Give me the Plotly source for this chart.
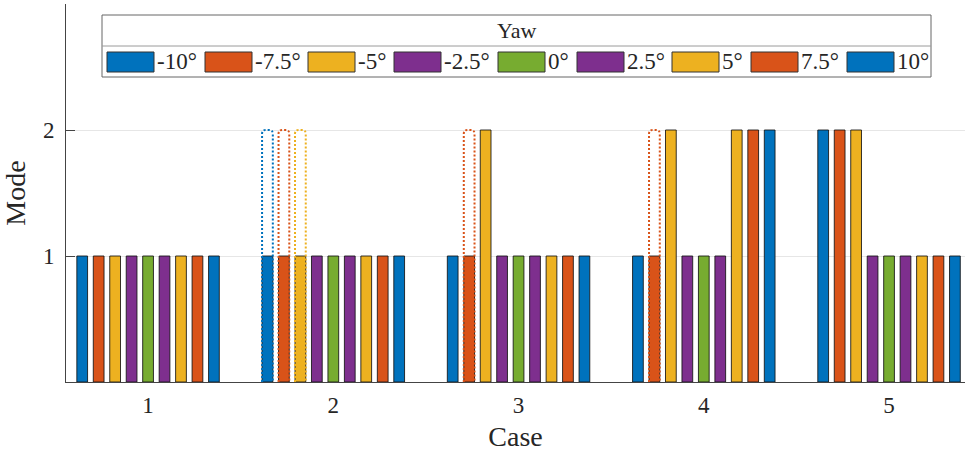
import plotly.graph_objects as go

# Grouped bar data: mode observed per case for each yaw angle
cases = [1, 2, 3, 4, 5]
yaw_labels = ["-10°", "-7.5°", "-5°", "-2.5°", "0°", "2.5°", "5°", "7.5°", "10°"]
colors = ["#0072BD", "#D95319", "#EDB120", "#7E2F8E", "#77AC30",
          "#7E2F8E", "#EDB120", "#D95319", "#0072BD"]

mode_m10 = [1, 1, 1, 1, 2]
mode_m75 = [1, 1, 1, 1, 2]
mode_m5 = [1, 1, 2, 2, 2]
mode_m25 = [1, 1, 1, 1, 1]
mode_0 = [1, 1, 1, 1, 1]
mode_p25 = [1, 1, 1, 1, 1]
mode_p5 = [1, 1, 1, 2, 1]
mode_p75 = [1, 1, 1, 2, 1]
mode_p10 = [1, 1, 1, 2, 1]
modes = [mode_m10, mode_m75, mode_m5, mode_m25, mode_0,
         mode_p25, mode_p5, mode_p75, mode_p10]

# Alternative mode (dotted outline), None where absent
alt_m10 = [None, 2, None, None, None]
alt_m75 = [None, 2, 2, 2, None]
alt_m5 = [None, 2, None, None, None]
alt_modes = [alt_m10, alt_m75, alt_m5] + [[None] * 5] * 6

n = len(yaw_labels)
slot = 0.8 / n
bar_w = 0.058
offsets = [(i - (n - 1) / 2) * slot for i in range(n)]

FONT = "Liberation Serif"
TXT = "#262626"

fig = go.Figure()
for i in range(n):
    fig.add_trace(go.Bar(
        x=cases, y=modes[i], name=yaw_labels[i],
        offset=offsets[i] - bar_w / 2, width=bar_w,
        marker=dict(color=colors[i], line=dict(color="rgba(20,20,20,0.85)", width=1)),
        showlegend=False,
    ))

# dotted outlines with rounded tops for the alternative modes
rx, ry = 0.02, 0.03
for i in range(n):
    for c, v in zip(cases, alt_modes[i]):
        if v is None:
            continue
        x0 = c + offsets[i] - bar_w / 2
        x1 = x0 + bar_w
        path = (f"M {x0},0 L {x0},{v - ry} Q {x0},{v} {x0 + rx},{v} "
                f"L {x1 - rx},{v} Q {x1},{v} {x1},{v - ry} L {x1},0")
        fig.add_shape(type="path", path=path, xref="x", yref="y",
                      line=dict(color=colors[i], width=2, dash="2px,2px"))

# legend box drawn in pixel units converted to paper coordinates
L, R, T, B = 66, 965, 4, 382
W, H = R - L, B - T


def px(x):
    return (x - L) / W


def py(y):
    return (B - y) / H


fig.add_shape(type="rect", xref="paper", yref="paper",
              x0=px(102), x1=px(931), y0=py(15), y1=py(77),
              line=dict(color="#666666", width=1), fillcolor="white")
fig.add_shape(type="line", xref="paper", yref="paper",
              x0=px(102), x1=px(931), y0=py(46), y1=py(46),
              line=dict(color="#9a9a9a", width=1))
fig.add_annotation(xref="paper", yref="paper", x=px(516), y=py(31),
                   xanchor="center", yanchor="middle",
                   text="Yaw", showarrow=False,
                   font=dict(family=FONT, size=22, color=TXT))

sw_left = [107, 205, 308, 394, 498, 577, 672, 751, 847]
sw_width = 47
for i in range(n):
    fig.add_shape(type="rect", xref="paper", yref="paper",
                  x0=px(sw_left[i]), x1=px(sw_left[i] + sw_width),
                  y0=py(52), y1=py(72),
                  fillcolor=colors[i], line=dict(color="#333333", width=1))
    fig.add_annotation(xref="paper", yref="paper",
                       x=px(sw_left[i] + sw_width + 1), y=py(61),
                       xanchor="left", yanchor="middle",
                       text=yaw_labels[i], showarrow=False,
                       font=dict(family=FONT, size=23, color=TXT))

fig.update_layout(
    width=965, height=452,
    margin=dict(l=L, r=0, t=T, b=452 - B),
    plot_bgcolor="white", paper_bgcolor="white",
    barmode="overlay",
    font=dict(family=FONT, color=TXT),
)
fig.update_xaxes(
    range=[0.557, 5.41], tickvals=cases, ticktext=[str(c) for c in cases],
    showline=True, linecolor="#444444", linewidth=1,
    ticks="inside", ticklen=0, showgrid=False, zeroline=False,
    tickfont=dict(family=FONT, size=23, color=TXT), ticklabelstandoff=2,
    title=dict(text="Case", font=dict(family=FONT, size=28, color=TXT), standoff=12),
)
fig.update_yaxes(
    range=[0, 3], tickvals=[1, 2],
    showline=True, linecolor="#444444", linewidth=1,
    ticks="inside", ticklen=9, tickcolor="#444444",
    showgrid=True, gridcolor="#e6e6e6", gridwidth=1, zeroline=False,
    tickfont=dict(family=FONT, size=23, color=TXT), ticklabelstandoff=6,
    title=dict(text="Mode", font=dict(family=FONT, size=28, color=TXT), standoff=12),
    layer="below traces",
)

fig.write_html("out.html")
